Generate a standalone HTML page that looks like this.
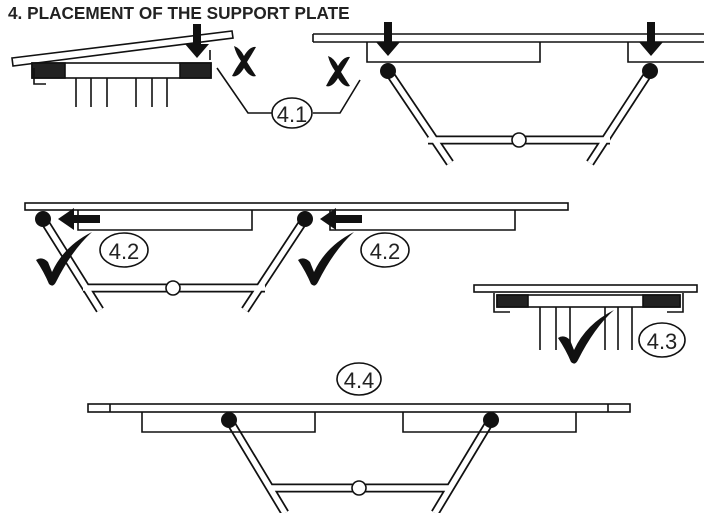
<!DOCTYPE html>
<html><head><style>
html,body{margin:0;padding:0;background:#fff;}
svg{display:block;}
text{font-family:"Liberation Sans",Arial,sans-serif;}
</style></head><body>
<svg width="704" height="513" viewBox="0 0 704 513" xmlns="http://www.w3.org/2000/svg">
<defs>
<g id="chk"><path d="M0,22 Q6,18 12,24 L16,34 Q28,8 56,-6 Q36,12 20,44 Q17,50 13,46 Q8,34 0,22Z" fill="#111"/></g>
<g id="xx"><path d="M-10,-14 Q-4,-12 0,-4 Q6,-14 12,-13 Q8,-6 3,2 Q8,10 12,16 Q6,18 0,8 Q-6,18 -12,16 Q-8,8 -3,1 Q-8,-6 -10,-14Z" fill="#111"/></g>
<g id="darr"><rect x="-4" y="0" width="8" height="24" fill="#111"/><path d="M-12,20 L12,20 L0,34Z" fill="#111"/></g>
<g id="larr"><rect x="0" y="-4" width="30" height="8" fill="#111"/><path d="M4,-11 L4,11 L-12,0Z" fill="#111"/></g>
</defs>
<text x="8" y="19" font-size="17.2" font-weight="bold" fill="#222">4. PLACEMENT OF THE SUPPORT PLATE</text>

<g stroke="#111" fill="none" stroke-width="1.6">
<polygon points="12,58 232,31 233,38 13,66" fill="#fff"/>
<rect x="32" y="63" width="179" height="15" fill="#fff"/>
<rect x="32" y="63" width="33" height="15" fill="#222"/>
<rect x="180" y="63" width="31" height="15" fill="#222"/>
<path d="M34,68 V84 H46 M210,50 V60"/>
<path d="M76,78V107 M91,78V107 M107,78V107 M136,78V107 M152,78V107 M167,78V107"/>
<path d="M217,68 L248,113 L272,113 M313,113 L340,113 L360,80"/>
<ellipse cx="292" cy="113" rx="20" ry="15" fill="#fff"/>
<path d="M313,34 H704 M313,42 H704 M313,34 V42"/>
<path d="M367,42 V62 H540 V42 M628,42 V62 H704"/>
</g>
<use href="#xx" x="244" y="60"/>
<use href="#xx" x="338" y="70"/>
<use href="#darr" x="197" y="24"/>
<use href="#darr" x="388" y="22"/>
<use href="#darr" x="651" y="22"/>
<text x="292" y="122" font-size="22" text-anchor="middle" fill="#222">4.1</text>

<g stroke-linecap="butt">
<g stroke="#111" stroke-width="9" fill="none">
<path d="M388,71 L450,163 M650,71 L590,163 M428,140 H610"/>
<path d="M43,219 L100,310 M305,219 L245,310 M83,288 H265"/>
<path d="M229,420 L285,513 M491,420 L435,513 M269,488 H450"/>
</g>
<g stroke="#fff" stroke-width="5.5" fill="none">
<path d="M388,71 L450,163 M650,71 L590,163 M428,140 H610"/>
<path d="M43,219 L100,310 M305,219 L245,310 M83,288 H265"/>
<path d="M229,420 L285,513 M491,420 L435,513 M269,488 H450"/>
</g>
</g>
<g fill="#fff" stroke="#111" stroke-width="1.6">
<circle cx="519" cy="140" r="7"/><circle cx="173" cy="288" r="7"/><circle cx="359" cy="488" r="7"/>
</g>
<g fill="#111">
<circle cx="388" cy="71" r="8"/><circle cx="650" cy="71" r="8"/>
<circle cx="43" cy="219" r="8"/><circle cx="305" cy="219" r="8"/>
<circle cx="229" cy="420" r="8"/><circle cx="491" cy="420" r="8"/>
</g>

<g stroke="#111" fill="none" stroke-width="1.6">
<rect x="25" y="203" width="543" height="7" fill="#fff"/>
<path d="M78,210 V230 H252 V210 M330,210 V230 H515 V210"/>
<ellipse cx="124" cy="250" rx="24" ry="17" fill="#fff"/>
<ellipse cx="385" cy="250" rx="24" ry="17" fill="#fff"/>
</g>
<use href="#larr" x="70" y="219"/>
<use href="#larr" x="332" y="219"/>
<use href="#chk" x="36" y="238"/>
<use href="#chk" x="298" y="238"/>
<text x="124" y="259" font-size="22" text-anchor="middle" fill="#222">4.2</text>
<text x="385" y="259" font-size="22" text-anchor="middle" fill="#222">4.2</text>

<g stroke="#111" fill="none" stroke-width="1.6">
<rect x="474" y="285" width="223" height="7" fill="#fff"/>
<rect x="497" y="295" width="183" height="12" fill="#fff"/>
<rect x="497" y="295" width="31" height="12" fill="#222"/>
<rect x="643" y="295" width="37" height="12" fill="#222"/>
<path d="M494,293 V312 H510 M683,293 V312 H667"/>
<path d="M540,307V350 M556,307V350 M570,307V350 M605,307V350 M618,307V350 M632,307V350"/>
<ellipse cx="662" cy="340" rx="23" ry="17" fill="#fff"/>
</g>
<use href="#chk" x="558" y="316"/>
<text x="662" y="349" font-size="22" text-anchor="middle" fill="#222">4.3</text>

<g stroke="#111" fill="none" stroke-width="1.6">
<rect x="88" y="404" width="542" height="8" fill="#fff"/>
<path d="M110,404 V412 M608,404 V412"/>
<path d="M142,412 V432 H315 V412 M403,412 V432 H576 V412"/>
<ellipse cx="359" cy="379" rx="22" ry="16" fill="#fff"/>
</g>
<text x="359" y="388" font-size="22" text-anchor="middle" fill="#222">4.4</text>
</svg>
</body></html>
